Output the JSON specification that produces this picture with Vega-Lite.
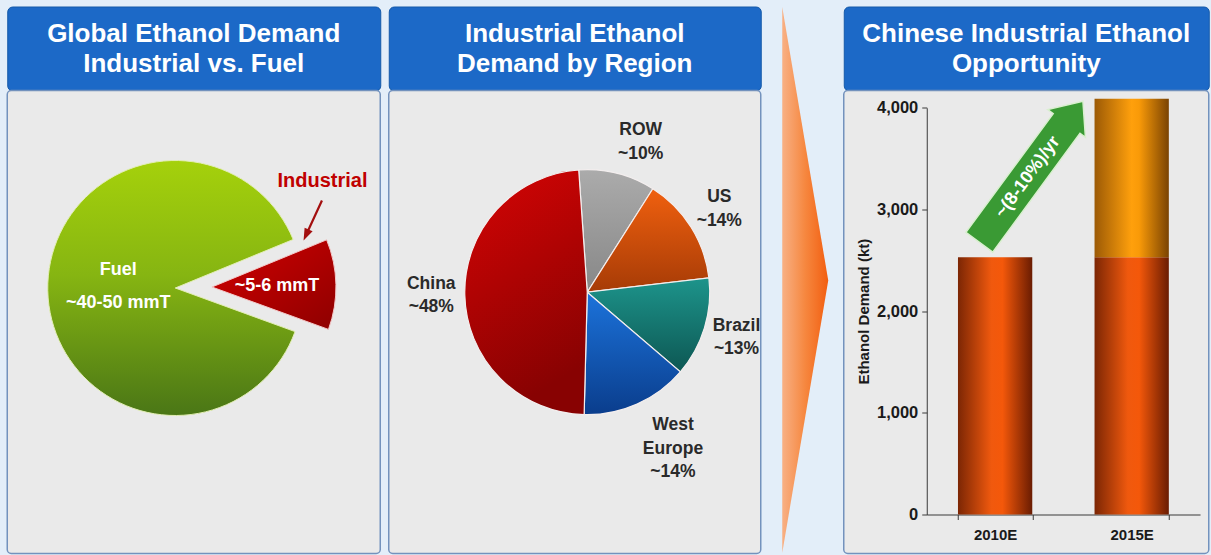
{
  "$schema": "https://vega.github.io/schema/vega-lite/v6.json",
  "background": "#e3eef9",
  "padding": {"left": 6.25, "top": 5.5, "right": 2, "bottom": 1},
  "config": {"view": {"stroke": null}, "font": "Liberation Sans"},
  "spacing": 6.5,
  "hconcat": [
    {
      "spacing": 0,
      "bounds": "flush",
      "vconcat": [
        {
          "width": 373, "height": 84,
          "view": {"fill": "#1c69c7", "stroke": "#155aa9", "cornerRadius": 5},
          "data": {"values": [{"title": ["Global Ethanol Demand", "Industrial vs. Fuel"]}]},
          "mark": {"type": "text", "color": "white", "fontSize": 26, "fontWeight": "bold", "lineHeight": 30.5, "dy": -15, "baseline": "middle", "align": "center"},
          "encoding": {"text": {"field": "title"}}
        },
        {
          "width": 373, "height": 463,
          "view": {"fill": "#eaeaea", "stroke": "#7392bd", "strokeWidth": 1.5, "cornerRadius": 4},
          "data": {"values": [
            {"segment": "Fuel", "value": 45, "label": ["Fuel", "~40-50 mmT"]},
            {"segment": "Industrial", "value": 6, "label": "~5-6 mmT"}
          ]},
          "transform": [{"window": [{"op": "row_number", "as": "idx"}]}],
          "layer": [
            {
              "mark": {"type": "arc", "outerRadius": 127.5, "xOffset": -18.5, "yOffset": -34, "stroke": "#e2eeb4", "strokeWidth": 1,
                "fill": {"gradient": "linear", "x1": 0, "y1": 0, "x2": 0, "y2": 1, "stops": [{"offset": 0, "color": "#a5d10b"}, {"offset": 0.45, "color": "#86b512"}, {"offset": 1, "color": "#4a7616"}]}},
              "encoding": {
                "theta": {"field": "value", "type": "quantitative", "stack": true, "scale": {"range": [1.9199, 8.2030]}},
                "order": {"field": "idx", "type": "quantitative"},
                "opacity": {"condition": {"test": "datum.segment === 'Fuel'", "value": 1}, "value": 0}
              }
            },
            {
              "mark": {"type": "arc", "outerRadius": 124, "xOffset": 18.2, "yOffset": -35, "stroke": "#f3c9c9", "strokeWidth": 1,
                "fill": {"gradient": "linear", "x1": 0, "y1": 0, "x2": 1, "y2": 1, "stops": [{"offset": 0, "color": "#d20000"}, {"offset": 1, "color": "#8e0000"}]}},
              "encoding": {
                "theta": {"field": "value", "type": "quantitative", "stack": true, "scale": {"range": [1.9199, 8.2030]}},
                "order": {"field": "idx", "type": "quantitative"},
                "opacity": {"condition": {"test": "datum.segment === 'Industrial'", "value": 1}, "value": 0}
              }
            },
            {
              "mark": {"type": "text", "radius": 57, "xOffset": -18.5, "yOffset": -34, "dy": -19, "color": "white", "fontSize": 18, "fontWeight": "bold", "lineHeight": 33, "align": "center", "baseline": "middle"},
              "encoding": {
                "theta": {"field": "value", "type": "quantitative", "stack": true, "scale": {"range": [1.9199, 8.2030]}},
                "order": {"field": "idx", "type": "quantitative"},
                "text": {"condition": {"test": "datum.segment === 'Fuel'", "field": "label"}, "value": ""}
              }
            },
            {
              "mark": {"type": "text", "radius": 65, "xOffset": 18.2, "yOffset": -35, "color": "white", "fontSize": 18, "fontWeight": "bold", "align": "center", "baseline": "middle"},
              "encoding": {
                "theta": {"field": "value", "type": "quantitative", "stack": true, "scale": {"range": [1.9199, 8.2030]}},
                "order": {"field": "idx", "type": "quantitative"},
                "text": {"condition": {"test": "datum.segment === 'Industrial'", "field": "label"}, "value": ""}
              }
            },
            {
              "mark": {"type": "text", "radius": 65, "xOffset": 18.2, "yOffset": -35, "dx": 45.5, "dy": -105, "color": "#c00000", "fontSize": 20, "fontWeight": "bold", "align": "center", "baseline": "middle"},
              "encoding": {
                "theta": {"field": "value", "type": "quantitative", "stack": true, "scale": {"range": [1.9199, 8.2030]}},
                "order": {"field": "idx", "type": "quantitative"},
                "text": {"condition": {"test": "datum.segment === 'Industrial'", "field": "segment"}, "value": ""}
              }
            },
            {
              "data": {"values": [{}]},
              "mark": {"type": "point", "shape": "M-0.05,-1L0.05,-1L0.05,0.45L0.2,0.45L0,1L-0.2,0.45L-0.05,0.45Z", "size": 1936, "angle": 24.7, "filled": true, "fill": "#a30f0f", "opacity": 1, "strokeWidth": 0, "xOffset": 119, "yOffset": -101.5},
              "encoding": {}
            }
          ]
        }
      ]
    },
    {
      "spacing": 0,
      "bounds": "flush",
      "vconcat": [
        {
          "width": 372, "height": 84,
          "view": {"fill": "#1c69c7", "stroke": "#155aa9", "cornerRadius": 5},
          "data": {"values": [{"title": ["Industrial Ethanol", "Demand by Region"]}]},
          "mark": {"type": "text", "color": "white", "fontSize": 26, "fontWeight": "bold", "lineHeight": 30.5, "dy": -15, "baseline": "middle", "align": "center"},
          "encoding": {"text": {"field": "title"}}
        },
        {
          "width": 372, "height": 463,
          "view": {"fill": "#eaeaea", "stroke": "#7392bd", "strokeWidth": 1.5, "cornerRadius": 4},
          "data": {"values": [
            {"region": "ROW", "share": 10, "label": ["ROW", "~10%"]},
            {"region": "US", "share": 14, "label": ["US", "~14%"]},
            {"region": "Brazil", "share": 13, "label": ["Brazil", "~13%"]},
            {"region": "West Europe", "share": 14, "label": ["West", "Europe", "~14%"]},
            {"region": "China", "share": 48, "label": ["China", "~48%"]}
          ]},
          "transform": [{"window": [{"op": "row_number", "as": "idx"}]}],
          "layer": [
            {
              "mark": {"type": "arc", "outerRadius": 122.5, "xOffset": 12.5, "yOffset": -29.8, "stroke": "#f3eeee", "strokeWidth": 1.2},
              "encoding": {
                "theta": {"field": "share", "type": "quantitative", "stack": true, "scale": {"range": [-0.0698, 6.2134]}},
                "order": {"field": "idx", "type": "quantitative"},
                "fill": {
                  "condition": [
                    {"test": "datum.region === 'China'", "value": {"gradient": "linear", "x1": 0, "y1": 0, "x2": 0.3, "y2": 1, "stops": [{"offset": 0, "color": "#d60404"}, {"offset": 1, "color": "#880202"}]}},
                    {"test": "datum.region === 'ROW'", "value": {"gradient": "linear", "x1": 0, "y1": 0, "x2": 0, "y2": 1, "stops": [{"offset": 0, "color": "#ababab"}, {"offset": 1, "color": "#878787"}]}},
                    {"test": "datum.region === 'US'", "value": {"gradient": "linear", "x1": 0, "y1": 0, "x2": 0, "y2": 1, "stops": [{"offset": 0, "color": "#f0600f"}, {"offset": 1, "color": "#a63b06"}]}},
                    {"test": "datum.region === 'Brazil'", "value": {"gradient": "linear", "x1": 0, "y1": 0, "x2": 0, "y2": 1, "stops": [{"offset": 0, "color": "#1d948b"}, {"offset": 1, "color": "#0d5753"}]}}
                  ],
                  "value": {"gradient": "linear", "x1": 0, "y1": 0, "x2": 0, "y2": 1, "stops": [{"offset": 0, "color": "#1c73db"}, {"offset": 1, "color": "#0a3d8c"}]}
                }
              }
            },
            {
              "mark": {"type": "text", "radius": 156, "xOffset": 12.5, "yOffset": -29.8, "dy": -11.75, "color": "#2a2a2a", "fontSize": 17.5, "fontWeight": "bold", "lineHeight": 23.5, "align": "center", "baseline": "middle"},
              "encoding": {
                "theta": {"field": "share", "type": "quantitative", "stack": true, "scale": {"range": [-0.0698, 6.2134]}},
                "order": {"field": "idx", "type": "quantitative"},
                "text": {"condition": {"test": "datum.region === 'US' || datum.region === 'Brazil' || datum.region === 'China'", "field": "label"}, "value": ""}
              }
            },
            {
              "mark": {"type": "text", "radius": 155, "xOffset": 28, "yOffset": -29.8, "dy": -11.75, "color": "#2a2a2a", "fontSize": 17.5, "fontWeight": "bold", "lineHeight": 23.5, "align": "center", "baseline": "middle"},
              "encoding": {
                "theta": {"field": "share", "type": "quantitative", "stack": true, "scale": {"range": [-0.0698, 6.2134]}},
                "order": {"field": "idx", "type": "quantitative"},
                "text": {"condition": {"test": "datum.region === 'ROW'", "field": "label"}, "value": ""}
              }
            },
            {
              "mark": {"type": "text", "radius": 156, "xOffset": 34.8, "yOffset": -29.8, "dy": -9.7, "color": "#2a2a2a", "fontSize": 17.5, "fontWeight": "bold", "lineHeight": 23.5, "align": "center", "baseline": "middle"},
              "encoding": {
                "theta": {"field": "share", "type": "quantitative", "stack": true, "scale": {"range": [-0.0698, 6.2134]}},
                "order": {"field": "idx", "type": "quantitative"},
                "text": {"condition": {"test": "datum.region === 'West Europe'", "field": "label"}, "value": ""}
              }
            }
          ]
        }
      ]
    },
    {
      "width": 68, "height": 547,
      "view": {"fill": null, "stroke": null},
      "data": {"values": [{}]},
      "mark": {"type": "point", "shape": "M-0.0733,-1L0.0952,0.002L-0.0733,1Z", "size": 298116, "filled": true, "opacity": 1, "strokeWidth": 0,
        "fill": {"gradient": "linear", "x1": 0, "y1": 0, "x2": 1, "y2": 0, "stops": [{"offset": 0, "color": "#f8b084"}, {"offset": 0.5, "color": "#f6873f"}, {"offset": 1, "color": "#f25e10"}]}},
      "encoding": {}
    },
    {
      "spacing": 0,
      "bounds": "flush",
      "vconcat": [
        {
          "width": 365, "height": 84,
          "view": {"fill": "#1c69c7", "stroke": "#155aa9", "cornerRadius": 5},
          "data": {"values": [{"title": ["Chinese Industrial Ethanol", "Opportunity"]}]},
          "mark": {"type": "text", "color": "white", "fontSize": 26, "fontWeight": "bold", "lineHeight": 30.5, "dy": -15, "baseline": "middle", "align": "center"},
          "encoding": {"text": {"field": "title"}}
        },
        {
          "width": 365, "height": 463,
          "view": {"fill": "#eaeaea", "stroke": "#7392bd", "strokeWidth": 1.5, "cornerRadius": 4},
          "layer": [
            {
              "data": {"values": [
                {"year": "2010E", "segment": "Base", "value": 2530},
                {"year": "2015E", "segment": "Base", "value": 2530},
                {"year": "2015E", "segment": "Growth", "value": 1560}
              ]},
              "mark": {"type": "bar"},
              "encoding": {
                "x": {"field": "year", "type": "nominal",
                  "scale": {"range": [83, 356.3], "paddingInner": 0.456, "paddingOuter": 0.2286},
                  "axis": {"title": null, "offset": -39, "labelAngle": 0, "tickBand": "extent", "domainColor": "#3a3a3a", "tickColor": "#3a3a3a", "tickSize": 5, "labelFontSize": 15, "labelFontWeight": "bold", "labelColor": "#1a1a1a", "labelPadding": 8, "grid": false}},
                "y": {"field": "value", "type": "quantitative", "stack": true,
                  "scale": {"domain": [0, 4000], "range": [424, 17.3], "nice": false, "zero": true},
                  "axis": {"title": "Ethanol Demand (kt)", "offset": -83, "values": [0, 1000, 2000, 3000, 4000], "format": ",d", "grid": false, "domainColor": "#3a3a3a", "tickColor": "#3a3a3a", "tickSize": 5, "labelFontSize": 16.5, "labelFontWeight": "bold", "labelColor": "#1a1a1a", "labelPadding": 4, "titleFontSize": 15, "titleFontWeight": "bold", "titleColor": "#1a1a1a", "titlePadding": 5}},
                "order": {"field": "segment", "type": "nominal"},
                "fill": {
                  "condition": {"test": "datum.segment === 'Growth'", "value": {"gradient": "linear", "x1": 0, "y1": 0, "x2": 1, "y2": 0, "stops": [{"offset": 0, "color": "#9c5a06"}, {"offset": 0.5, "color": "#ffa00c"}, {"offset": 0.6, "color": "#f99a08"}, {"offset": 1, "color": "#7a4302"}]}},
                  "value": {"gradient": "linear", "x1": 0, "y1": 0, "x2": 1, "y2": 0, "stops": [{"offset": 0, "color": "#7c2604"}, {"offset": 0.45, "color": "#f0590e"}, {"offset": 0.6, "color": "#f4580a"}, {"offset": 1, "color": "#6a1c02"}]}
                }
              }
            },
            {
              "data": {"values": [{"note": "~(8-10%)/yr"}]},
              "mark": {"type": "point", "shape": "M-0.19,1L0.19,1L0.19,-0.685L0.267,-0.685L0,-1L-0.267,-0.685L-0.19,-0.685Z", "size": 30625, "angle": 36.3, "filled": true, "opacity": 1, "fill": "#3a9a34", "stroke": "#d9efcf", "strokeWidth": 1.5, "xOffset": 36},
              "encoding": {
                "x": {"datum": "2010E", "type": "nominal"},
                "y": {"datum": 3371, "type": "quantitative"}
              }
            },
            {
              "data": {"values": [{"note": "~(8-10%)/yr"}]},
              "mark": {"type": "text", "angle": -53.7, "color": "white", "fontSize": 18, "fontWeight": "bold", "xOffset": 32.7, "align": "center", "baseline": "middle"},
              "encoding": {
                "x": {"datum": "2010E", "type": "nominal"},
                "y": {"datum": 3317, "type": "quantitative"},
                "text": {"field": "note"}
              }
            }
          ]
        }
      ]
    }
  ]
}
